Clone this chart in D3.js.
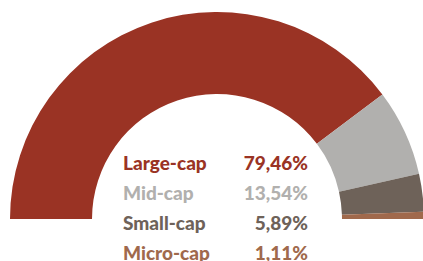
<!DOCTYPE html>
<html>
<head>
<meta charset="utf-8">
<script src="https://cdn.jsdelivr.net/npm/d3@7"></script>
<style>
  body { margin: 0; background: #fff; }
  svg { display: block; }
</style>
</head>
<body>
<div id="container"></div>
<script>
/* DATA */
const categories = ["Large-cap", "Mid-cap", "Small-cap", "Micro-cap"];
const shares = [79.46, 13.54, 5.89, 1.11];
const labels = ["79,46%", "13,54%", "5,89%", "1,11%"];
const colors = ["#9a3324", "#b1b0ae", "#6e6259", "#a0694c"];

/* CONSTANTS */
const width = 423,
  height = 261,
  cx = 217,
  cy = 219,
  outerR = 207,
  innerR = 125;

const svg = d3.select("#container")
  .append("svg")
  .attr("width", width)
  .attr("height", height);

// PIE (half donut, left to right)
const pie = d3.pie()
  .sort(null)
  .startAngle(-Math.PI / 2)
  .endAngle(Math.PI / 2)
  .value(d => d);

const arc = d3.arc()
  .innerRadius(innerR)
  .outerRadius(outerR);

svg.append("g")
  .attr("transform", `translate(${cx}, ${cy})`)
  .selectAll("path")
  .data(pie(shares))
  .join("path")
  .attr("d", arc)
  .attr("fill", (d, i) => colors[i]);

// LEGEND TEXT
const rowY = d3.scalePoint()
  .domain(categories)
  .range([170, 260]);

const legend = svg.append("g")
  .attr("font-family", "Lato, sans-serif")
  .attr("font-weight", 900)
  .attr("font-size", 19);

legend.selectAll("text.name")
  .data(categories)
  .join("text")
  .attr("class", "name")
  .attr("x", 123)
  .attr("y", d => rowY(d))
  .attr("fill", (d, i) => colors[i])
  .text(d => d);

legend.selectAll("text.value")
  .data(categories)
  .join("text")
  .attr("class", "value")
  .attr("x", 308)
  .attr("y", d => rowY(d))
  .attr("text-anchor", "end")
  .attr("fill", (d, i) => colors[i])
  .text((d, i) => labels[i]);
</script>
</body>
</html>
